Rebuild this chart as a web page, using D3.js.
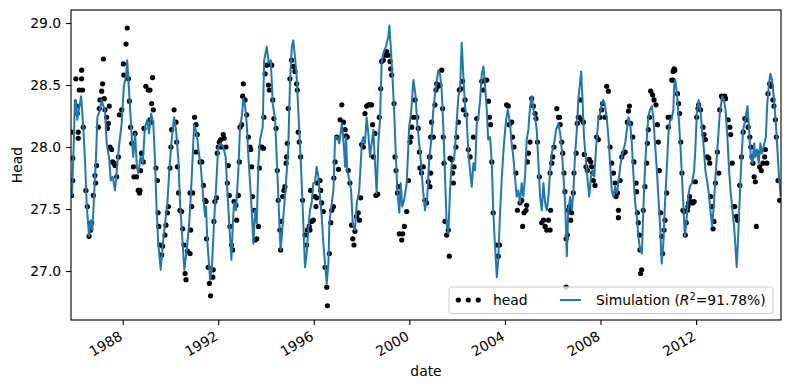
<!DOCTYPE html>
<html>
<head>
<meta charset="utf-8">
<script src="https://cdn.jsdelivr.net/npm/d3@7"></script>
<style>
    body { margin: 0; background: #fff; }
    text { font-family: "DejaVu Sans", sans-serif; }
</style>
</head>
<body>
<div id="chart"></div>
<script>
// observed head [decimal year, head]
var observed = [
    [1985.86, 28.12], [1985.91, 27.91], [1985.91, 27.73], [1985.86, 27.61],
    [1986.04, 28.55], [1986.07, 28.33], [1986.10, 28.27], [1986.14, 28.12], [1986.14, 28.07], [1986.18, 28.46],
    [1986.28, 28.62], [1986.28, 28.55], [1986.32, 28.46], [1986.35, 28.16], [1986.46, 27.65], [1986.52, 27.52],
    [1986.59, 27.28], [1986.66, 27.33], [1986.70, 27.39], [1986.77, 27.61], [1986.84, 27.77], [1986.87, 27.71],
    [1986.91, 27.85], [1986.98, 28.16], [1987.02, 28.31], [1987.05, 28.38], [1987.12, 28.45], [1987.16, 28.51],
    [1987.19, 28.71], [1987.23, 28.39], [1987.26, 28.30], [1987.33, 28.24], [1987.36, 28.15], [1987.44, 28.33],
    [1987.40, 28.19], [1987.47, 28.00], [1987.54, 27.98], [1987.58, 27.88], [1987.64, 27.87], [1987.68, 27.85],
    [1987.75, 27.76], [1987.82, 27.92], [1987.86, 28.26], [1987.96, 28.30], [1988.03, 28.67], [1988.05, 28.58],
    [1988.14, 28.83], [1988.19, 28.96], [1988.24, 28.55], [1988.28, 28.37], [1988.33, 28.16], [1988.38, 28.03],
    [1988.45, 27.84], [1988.47, 27.76], [1988.52, 28.11], [1988.58, 27.76], [1988.65, 27.65], [1988.70, 27.63],
    [1988.72, 27.65], [1988.75, 27.81], [1988.79, 27.95], [1988.86, 27.88], [1988.89, 28.15], [1988.97, 28.49],
    [1989.07, 28.46], [1989.14, 28.46], [1989.21, 28.35], [1989.25, 28.56], [1989.28, 28.30], [1989.14, 28.22],
    [1989.21, 28.20], [1989.39, 27.83], [1989.45, 27.73], [1989.48, 27.47], [1989.51, 27.36], [1989.56, 27.21],
    [1989.63, 27.13], [1989.67, 27.20], [1989.77, 27.29], [1989.81, 27.37], [1989.87, 27.47], [1989.91, 27.52],
    [1989.98, 27.83], [1990.02, 28.00], [1990.05, 28.14], [1990.15, 28.30], [1990.23, 28.20], [1990.26, 28.04],
    [1990.29, 27.84], [1990.34, 27.63], [1990.40, 27.49], [1990.47, 27.48], [1990.51, 27.34], [1990.57, 27.21],
    [1990.61, 26.98], [1990.65, 26.93], [1990.71, 27.16], [1990.82, 27.63], [1990.85, 27.33],
    [1990.89, 27.52], [1990.82, 27.14], [1990.93, 27.63], [1991.01, 28.24], [1991.07, 28.18], [1991.12, 28.10],
    [1991.07, 27.96], [1991.24, 27.88], [1991.31, 27.88], [1991.38, 27.69], [1991.45, 27.57], [1991.49, 27.56],
    [1991.51, 27.26], [1991.58, 27.03], [1991.63, 26.90], [1991.68, 26.80], [1991.77, 26.95], [1991.79, 27.01],
    [1991.82, 27.40], [1991.86, 27.56], [1991.93, 27.59], [1991.96, 27.95], [1992.00, 28.00], [1992.04, 28.04],
    [1992.10, 28.06], [1992.14, 28.00], [1992.21, 28.10], [1992.25, 28.07], [1992.32, 28.00], [1992.38, 27.71],
    [1992.42, 27.85], [1992.46, 27.61], [1992.49, 27.36], [1992.56, 27.21], [1992.60, 27.17], [1992.66, 27.56],
    [1992.74, 27.53], [1992.77, 27.41], [1992.84, 27.61], [1992.88, 27.88], [1992.91, 28.16], [1992.98, 28.18],
    [1993.05, 28.51], [1993.02, 28.41], [1993.12, 28.38], [1993.19, 28.26], [1993.26, 28.08], [1993.33, 28.00],
    [1993.36, 27.98], [1993.40, 27.84], [1993.43, 27.60], [1993.50, 27.49], [1993.54, 27.25], [1993.61, 27.26],
    [1993.68, 27.36], [1993.72, 27.83], [1993.77, 28.00], [1993.82, 28.00], [1993.89, 27.99], [1993.91, 28.24],
    [1993.96, 28.59], [1994.03, 28.66], [1994.10, 28.50], [1994.14, 28.46], [1994.17, 28.67], [1994.24, 28.66],
    [1994.28, 28.38], [1994.33, 28.23], [1994.42, 28.15], [1994.47, 27.81], [1994.51, 27.57], [1994.58, 27.33],
    [1994.61, 27.17], [1994.65, 27.40], [1994.70, 27.60], [1994.75, 27.65], [1994.79, 27.68], [1994.84, 27.87],
    [1994.86, 27.92], [1994.89, 28.03], [1994.93, 28.31], [1995.00, 28.55], [1995.07, 28.70], [1995.14, 28.65],
    [1995.21, 28.61], [1995.28, 28.51], [1995.31, 28.46], [1995.35, 28.12], [1995.39, 28.04], [1995.45, 27.92],
    [1995.53, 27.57], [1995.63, 27.29], [1995.70, 27.21], [1995.73, 27.33], [1995.81, 27.36], [1995.87, 27.65],
    [1995.84, 27.33], [1995.91, 27.40], [1995.98, 27.41], [1996.05, 27.60], [1996.09, 27.52], [1996.12, 27.59],
    [1996.15, 27.71], [1996.26, 27.73], [1996.29, 27.65], [1996.33, 27.55], [1996.40, 27.48], [1996.47, 27.03],
    [1996.54, 26.87], [1996.57, 26.72], [1996.65, 27.14], [1996.71, 27.39], [1996.75, 27.49], [1996.82, 27.52],
    [1996.84, 27.75], [1996.89, 27.88], [1996.96, 28.08], [1997.03, 27.82], [1997.10, 28.22], [1997.17, 28.34],
    [1997.24, 28.20], [1997.31, 28.14], [1997.35, 28.09], [1997.40, 28.08], [1997.44, 27.81], [1997.51, 27.71],
    [1997.58, 27.37], [1997.63, 27.26], [1997.68, 27.21], [1997.72, 27.32], [1997.79, 27.44], [1997.86, 27.47],
    [1997.91, 27.41], [1997.96, 27.59], [1998.00, 28.02], [1998.07, 28.00], [1998.14, 28.27], [1998.21, 28.33],
    [1998.28, 28.34], [1998.35, 28.34], [1998.42, 28.34], [1998.46, 28.18], [1998.49, 27.92], [1998.56, 28.11],
    [1998.60, 27.61], [1998.67, 27.62], [1998.74, 28.24], [1998.80, 28.47], [1998.84, 28.69], [1998.91, 28.70],
    [1998.98, 28.74], [1999.05, 28.77], [1999.12, 28.74], [1999.19, 28.69], [1999.22, 28.63], [1999.26, 28.58],
    [1999.36, 28.35], [1999.40, 27.92], [1999.44, 27.81], [1999.50, 27.63], [1999.54, 27.68], [1999.58, 27.30],
    [1999.68, 27.25], [1999.72, 27.30], [1999.79, 27.36], [1999.89, 27.48], [1999.96, 27.73], [2000.03, 28.04],
    [2000.07, 28.08], [2000.10, 28.16], [2000.17, 28.24], [2000.24, 28.38], [2000.31, 28.24], [2000.37, 28.15],
    [2000.42, 27.96], [2000.44, 27.83], [2000.51, 27.79], [2000.58, 27.84], [2000.65, 27.57], [2000.72, 27.55],
    [2000.79, 27.72], [2000.84, 27.92], [2000.89, 28.08], [2000.93, 28.20],
    [2000.86, 27.92], [2000.89, 27.79], [2000.86, 27.68], [2001.00, 28.08], [2001.07, 28.34], [2001.11, 28.46],
    [2001.14, 28.51], [2001.21, 28.49], [2001.28, 28.50], [2001.35, 28.62], [2001.39, 28.31], [2001.42, 28.08],
    [2001.45, 27.87], [2001.49, 27.40], [2001.56, 27.29], [2001.63, 27.33], [2001.67, 27.12], [2001.70, 27.91],
    [2001.77, 27.90], [2001.81, 27.79], [2001.84, 27.71], [2001.87, 27.84], [2001.95, 28.00], [2001.98, 28.08],
    [2002.05, 28.20], [2002.09, 28.46], [2002.15, 28.47], [2002.23, 28.53], [2002.26, 28.30], [2002.33, 28.38],
    [2002.37, 28.26], [2002.47, 27.98], [2002.54, 27.92], [2002.68, 28.08], [2002.82, 28.23], [2003.03, 28.53],
    [2003.10, 28.46], [2003.17, 28.54], [2003.24, 28.54], [2003.31, 28.37], [2003.35, 28.24], [2003.40, 28.18],
    [2003.45, 27.88], [2003.51, 27.47], [2003.65, 27.21], [2003.72, 27.12], [2003.77, 27.21], [2004.07, 28.34],
    [2004.14, 28.33], [2004.18, 28.18], [2004.28, 28.20], [2004.32, 28.08], [2004.38, 28.00], [2004.46, 27.79],
    [2004.52, 27.49], [2004.63, 27.55], [2004.70, 27.57], [2004.74, 27.36], [2004.80, 27.47], [2004.88, 27.49],
    [2004.91, 27.53], [2004.94, 27.88], [2004.98, 27.95], [2005.05, 28.04], [2005.12, 28.39], [2005.19, 28.33],
    [2005.26, 28.27], [2005.30, 28.23], [2005.36, 28.04], [2005.44, 27.76], [2005.54, 27.39], [2005.61, 27.41],
    [2005.68, 27.36], [2005.75, 27.33], [2005.82, 27.41],
    [2005.89, 27.79], [2005.91, 27.49], [2005.89, 27.33], [2005.96, 27.87], [2006.00, 27.92], [2006.05, 28.00],
    [2006.17, 28.31], [2006.24, 28.24], [2006.28, 28.24], [2006.31, 28.18], [2006.38, 28.04], [2006.42, 27.95],
    [2006.47, 27.79], [2006.51, 27.64], [2006.56, 27.26], [2006.61, 27.29], [2006.65, 27.49], [2006.70, 27.52],
    [2006.75, 27.41], [2006.79, 27.47], [2006.86, 27.63], [2006.89, 27.79], [2006.98, 27.95], [2007.03, 28.19],
    [2007.07, 28.24], [2007.11, 28.24], [2007.17, 28.38], [2007.21, 28.22], [2007.28, 28.20], [2007.32, 27.94],
    [2007.39, 27.84], [2007.45, 27.81], [2007.53, 27.90], [2007.59, 27.88], [2007.63, 27.84], [2007.67, 27.79],
    [2007.70, 27.73], [2007.77, 27.69], [2007.84, 28.08], [2007.91, 28.06], [2007.98, 28.24], [2008.05, 28.30],
    [2008.09, 28.35], [2008.19, 28.24], [2008.26, 28.49], [2008.33, 28.45], [2008.40, 28.00], [2008.47, 27.87],
    [2008.54, 27.79], [2008.61, 27.71], [2008.65, 27.60], [2008.71, 27.63], [2008.75, 27.49], [2008.75, 27.43],
    [2008.82, 27.73], [2008.89, 27.92], [2008.96, 27.95], [2009.03, 27.96], [2009.12, 28.20], [2009.17, 28.29],
    [2009.21, 28.33], [2009.26, 28.19], [2009.35, 28.08], [2009.40, 27.88], [2009.49, 27.71], [2009.51, 27.64],
    [2009.54, 27.47], [2009.58, 27.39], [2009.63, 27.29], [2009.65, 27.17], [2009.68, 26.98], [2009.72, 27.01],
    [2009.79, 27.49], [2009.86, 27.68], [2009.93, 27.87], [2009.96, 28.03], [2010.00, 28.14], [2010.05, 28.24],
    [2010.10, 28.45], [2010.18, 28.42], [2010.24, 28.38], [2010.32, 28.34], [2010.38, 28.18], [2010.42, 28.04],
    [2010.46, 27.81], [2010.52, 27.47], [2010.56, 27.28], [2010.60, 27.14], [2010.66, 27.33], [2010.70, 27.41],
    [2010.77, 27.63], [2010.84, 28.16], [2010.91, 28.24], [2010.98, 28.54], [2006.56, 26.87],
    [2010.83, 28.24], [2011.04, 28.61], [2011.08, 28.63], [2011.11, 28.62], [2011.04, 28.54], [2011.22, 28.43],
    [2011.27, 28.35], [2011.31, 28.27], [2011.36, 28.04], [2011.41, 27.79], [2011.45, 27.49], [2011.50, 27.48],
    [2011.55, 27.29], [2011.59, 27.39], [2011.64, 27.49], [2011.66, 27.52], [2011.69, 27.55], [2011.73, 27.60],
    [2011.78, 27.56], [2011.83, 27.55], [2011.87, 27.55], [2011.92, 27.56], [2011.97, 27.72], [2012.03, 28.24],
    [2012.08, 28.31], [2012.11, 28.34], [2012.19, 28.30], [2012.29, 28.16], [2012.33, 28.10], [2012.39, 28.06],
    [2012.47, 27.92], [2012.53, 27.91], [2012.57, 27.87], [2012.61, 27.60], [2012.67, 27.52], [2012.71, 27.34],
    [2012.75, 27.40], [2012.81, 27.71], [2012.89, 27.96], [2012.95, 27.79], [2012.99, 28.30], [2013.06, 28.41],
    [2013.13, 28.39], [2013.20, 28.41], [2013.23, 28.39], [2013.34, 28.22], [2013.41, 28.16], [2013.45, 28.10],
    [2013.51, 27.87], [2013.56, 27.52], [2013.62, 27.52], [2013.69, 27.44], [2013.73, 27.41], [2013.83, 27.69],
    [2013.90, 27.92], [2013.97, 28.12], [2014.04, 28.23], [2014.11, 28.22], [2014.18, 28.16], [2014.25, 28.08],
    [2014.29, 28.00], [2014.34, 27.92], [2014.38, 27.87], [2014.43, 27.76], [2014.48, 27.72], [2014.52, 27.36],
    [2014.59, 27.95], [2014.66, 27.84], [2014.73, 27.81], [2014.80, 27.87], [2014.87, 27.92], [2014.90, 27.98],
    [2014.96, 27.87], [2015.01, 28.43], [2015.08, 28.51], [2015.15, 28.49], [2015.22, 28.38], [2015.26, 28.33],
    [2015.32, 28.22], [2015.36, 28.08], [2015.43, 27.73], [2015.50, 27.57]
];

// simulated head [decimal year, head]
var simulated = [
    [1985.87, 27.60], [1985.94, 27.95], [1986.00, 28.38], [1986.04, 28.38], [1986.10, 28.22], [1986.26, 28.41],
    [1986.35, 28.16], [1986.42, 27.90], [1986.49, 27.55], [1986.59, 27.28], [1986.66, 27.41], [1986.73, 27.33],
    [1986.80, 27.60], [1986.88, 27.90], [1986.94, 28.24], [1987.05, 28.30], [1987.12, 28.38], [1987.19, 28.33],
    [1987.26, 28.30], [1987.33, 28.03], [1987.44, 27.90], [1987.50, 27.73], [1987.58, 27.76], [1987.68, 27.65],
    [1987.75, 27.81], [1987.86, 28.03], [1987.96, 28.19], [1988.05, 28.49], [1988.14, 28.57], [1988.19, 28.70],
    [1988.28, 28.41], [1988.38, 28.08], [1988.44, 27.92], [1988.52, 28.11], [1988.59, 27.84], [1988.65, 27.79],
    [1988.75, 27.92], [1988.84, 27.87], [1988.93, 28.16], [1989.03, 28.22], [1989.10, 28.11], [1989.19, 28.27],
    [1989.28, 28.19], [1989.35, 27.90], [1989.42, 27.49], [1989.49, 27.22], [1989.59, 27.01], [1989.68, 27.22],
    [1989.77, 27.38], [1989.87, 27.55], [1989.95, 27.81], [1990.05, 28.06], [1990.15, 28.24], [1990.23, 28.14],
    [1990.33, 27.90], [1990.40, 27.55], [1990.51, 27.22], [1990.58, 27.01], [1990.68, 27.17], [1990.78, 27.38],
    [1990.85, 27.60], [1990.89, 27.76], [1990.99, 28.18], [1991.10, 28.11], [1991.17, 27.98], [1991.27, 27.84],
    [1991.37, 27.60], [1991.45, 27.44], [1991.49, 27.52], [1991.54, 27.25], [1991.66, 26.93], [1991.73, 27.01],
    [1991.82, 27.38], [1991.91, 27.68], [1992.00, 28.00], [1992.10, 28.03], [1992.21, 28.00], [1992.31, 27.92],
    [1992.38, 27.65], [1992.46, 27.38], [1992.55, 27.09], [1992.61, 27.38], [1992.66, 27.55], [1992.74, 27.49],
    [1992.84, 27.81], [1992.91, 28.16], [1992.98, 28.24], [1993.05, 28.39], [1993.12, 28.33], [1993.19, 28.19],
    [1993.26, 27.92], [1993.33, 27.71], [1993.40, 27.49], [1993.47, 27.22], [1993.54, 27.49], [1993.61, 27.38],
    [1993.68, 27.87], [1993.75, 28.06], [1993.86, 28.16], [1993.92, 28.70], [1994.03, 28.81], [1994.11, 28.68],
    [1994.20, 28.70], [1994.28, 28.35], [1994.38, 28.22], [1994.47, 27.81], [1994.56, 27.38], [1994.61, 27.17],
    [1994.70, 27.38], [1994.79, 27.60], [1994.87, 27.81], [1994.93, 27.98], [1995.00, 28.51], [1995.08, 28.81],
    [1995.14, 28.86], [1995.21, 28.73], [1995.28, 28.57], [1995.35, 28.30], [1995.45, 27.90], [1995.54, 27.49],
    [1995.63, 27.03], [1995.70, 27.14], [1995.79, 27.38], [1995.84, 27.49], [1995.91, 27.55], [1995.98, 27.71],
    [1996.05, 27.71], [1996.12, 27.84], [1996.19, 27.76], [1996.26, 27.60], [1996.33, 27.44], [1996.40, 27.22],
    [1996.47, 27.06], [1996.54, 26.90], [1996.61, 27.06], [1996.65, 27.38], [1996.71, 27.49], [1996.82, 27.65],
    [1996.89, 28.08], [1996.98, 28.08], [1997.07, 28.03], [1997.17, 28.19], [1997.23, 28.08], [1997.31, 27.84],
    [1997.35, 28.08], [1997.40, 27.81], [1997.49, 27.73], [1997.56, 27.65], [1997.63, 27.38], [1997.72, 27.33],
    [1997.80, 27.55], [1997.90, 27.65], [1998.01, 28.03], [1998.07, 28.08], [1998.14, 28.03], [1998.21, 28.24],
    [1998.28, 28.11], [1998.35, 27.92], [1998.42, 28.03], [1998.49, 28.14], [1998.56, 27.87], [1998.63, 27.63],
    [1998.70, 28.03], [1998.77, 28.22], [1998.84, 28.68], [1998.91, 28.76], [1999.02, 28.81], [1999.12, 28.89],
    [1999.16, 28.98], [1999.22, 28.81], [1999.29, 28.57], [1999.36, 28.30], [1999.44, 27.90], [1999.50, 27.63],
    [1999.58, 27.47], [1999.64, 27.71], [1999.70, 27.52], [1999.78, 27.57], [1999.89, 27.71], [1999.99, 28.16],
    [2000.07, 28.27], [2000.17, 28.54], [2000.25, 28.43], [2000.33, 28.19], [2000.45, 27.95], [2000.56, 27.68],
    [2000.65, 27.49], [2000.75, 27.60], [2000.83, 27.90], [2000.93, 28.08], [2001.00, 28.30], [2001.11, 28.49],
    [2001.21, 28.62], [2001.28, 28.59], [2001.35, 28.46], [2001.42, 28.16], [2001.49, 27.76], [2001.56, 27.38],
    [2001.63, 27.30], [2001.70, 27.65], [2001.77, 27.87], [2001.87, 27.90], [2001.95, 28.11], [2002.05, 28.41],
    [2002.12, 28.46], [2002.19, 28.84], [2002.26, 28.57], [2002.33, 28.33], [2002.40, 28.22], [2002.47, 27.95],
    [2002.54, 27.81], [2002.61, 27.68], [2002.68, 27.87], [2002.75, 27.81], [2002.82, 28.19], [2002.89, 28.24],
    [2002.96, 28.38], [2003.03, 28.59], [2003.10, 28.65], [2003.17, 28.49], [2003.24, 28.30], [2003.30, 28.06],
    [2003.38, 28.08], [2003.45, 27.87], [2003.51, 27.49], [2003.58, 27.22], [2003.66, 26.95], [2003.72, 27.09],
    [2003.79, 27.44], [2003.87, 27.76], [2003.96, 28.03], [2004.05, 28.22], [2004.12, 28.30], [2004.21, 28.19],
    [2004.28, 28.03], [2004.35, 27.92], [2004.42, 27.76], [2004.49, 27.60], [2004.56, 27.65], [2004.63, 27.55],
    [2004.70, 27.71], [2004.77, 27.60], [2004.84, 27.76], [2004.91, 28.06], [2004.98, 28.14], [2005.05, 28.33],
    [2005.12, 28.41], [2005.19, 28.30], [2005.26, 28.24], [2005.33, 28.14], [2005.40, 27.87], [2005.47, 27.60],
    [2005.54, 27.49], [2005.61, 27.71], [2005.68, 27.55], [2005.75, 27.49], [2005.82, 27.60], [2005.89, 27.81],
    [2005.96, 27.95], [2006.06, 28.03], [2006.14, 28.14], [2006.24, 28.19], [2006.31, 28.11], [2006.38, 27.98],
    [2006.44, 27.79], [2006.52, 27.55], [2006.59, 27.12], [2006.65, 27.49], [2006.73, 27.60], [2006.80, 27.49],
    [2006.86, 27.63], [2006.93, 27.92], [2007.01, 28.14], [2007.07, 28.38], [2007.14, 28.51], [2007.19, 28.61],
    [2007.24, 28.41], [2007.31, 28.08], [2007.40, 27.87], [2007.47, 27.71], [2007.53, 27.60], [2007.60, 27.76],
    [2007.68, 27.81], [2007.74, 27.76], [2007.81, 27.98], [2007.91, 28.22], [2007.98, 28.27], [2008.05, 28.35],
    [2008.12, 28.38], [2008.19, 28.33], [2008.26, 28.24], [2008.33, 28.08], [2008.40, 27.87], [2008.47, 27.65],
    [2008.54, 27.60], [2008.61, 27.68], [2008.68, 27.63], [2008.75, 27.71], [2008.82, 27.84], [2008.89, 27.92],
    [2008.96, 27.98], [2009.03, 28.03], [2009.10, 28.14], [2009.17, 28.24], [2009.24, 28.19], [2009.31, 28.03],
    [2009.38, 27.76], [2009.45, 27.55], [2009.52, 27.44], [2009.58, 27.28], [2009.66, 27.17], [2009.73, 27.14],
    [2009.79, 27.49], [2009.87, 27.87], [2009.94, 28.08], [2010.00, 28.24], [2010.07, 28.30], [2010.15, 28.33],
    [2010.21, 28.24], [2010.28, 28.03], [2010.36, 27.81], [2010.42, 27.60], [2010.49, 27.38], [2010.56, 27.06],
    [2010.63, 27.22], [2010.70, 27.55], [2010.77, 27.81], [2010.84, 28.10], [2010.91, 28.22], [2010.97, 28.22],
    [2011.05, 28.30], [2011.08, 28.49], [2011.13, 28.54], [2011.20, 28.43], [2011.28, 28.22], [2011.34, 28.03],
    [2011.41, 27.76], [2011.49, 27.44], [2011.53, 27.28], [2011.59, 27.38], [2011.67, 27.60], [2011.74, 27.68],
    [2011.83, 27.71], [2011.92, 27.81], [2011.97, 27.98], [2012.03, 28.27], [2012.11, 28.38], [2012.20, 28.27],
    [2012.25, 28.14], [2012.33, 27.98], [2012.39, 27.81], [2012.46, 27.73], [2012.53, 27.63], [2012.60, 27.49],
    [2012.67, 27.36], [2012.74, 27.52], [2012.81, 27.76], [2012.89, 27.98], [2012.99, 28.27], [2013.09, 28.41],
    [2013.17, 28.38], [2013.23, 28.30], [2013.31, 28.08], [2013.38, 27.81], [2013.45, 27.63], [2013.52, 27.49],
    [2013.59, 27.36], [2013.64, 27.22], [2013.70, 27.03], [2013.76, 27.28], [2013.83, 27.60], [2013.90, 27.92],
    [2013.97, 28.14], [2014.06, 28.22], [2014.15, 28.33], [2014.22, 28.14], [2014.29, 27.92], [2014.36, 27.87],
    [2014.43, 28.03], [2014.48, 27.92], [2014.55, 27.98], [2014.62, 27.87], [2014.69, 28.03], [2014.76, 27.95],
    [2014.86, 28.03], [2014.92, 28.08], [2014.98, 28.35], [2015.05, 28.51], [2015.11, 28.59], [2015.18, 28.54],
    [2015.25, 28.41], [2015.32, 28.24], [2015.39, 28.03], [2015.47, 27.76], [2015.54, 27.60]
];

var yTicks = [27.0, 27.5, 28.0, 28.5, 29.0];
var xDomain = [1985.836, 2015.555];
var yDomain = [26.605, 29.105];
var simLabel = {pre: 'Simulation (', sup: '2', post: '=91.78%)'};

function toDate(y) {
    var yr = Math.floor(y);
    var start = new Date(yr, 0, 1), end = new Date(yr + 1, 0, 1);
    return new Date(start.getTime() + (y - yr) * (end - start));
}

var width = 790, height = 390;
var margin = {top: 10, right: 9, bottom: 70, left: 71};
var fs = 13.9;
var dotR = 2.6;

var svg = d3.select('#chart').append('svg')
    .attr('width', width)
    .attr('height', height);

var x = d3.scaleTime()
    .domain(xDomain.map(toDate))
    .range([margin.left, width - margin.right]);
var y = d3.scaleLinear()
    .domain(yDomain)
    .range([height - margin.bottom, margin.top]);

svg.append('clipPath').attr('id', 'clip')
    .append('rect')
    .attr('x', margin.left).attr('y', margin.top)
    .attr('width', width - margin.left - margin.right)
    .attr('height', height - margin.top - margin.bottom);

var plot = svg.append('g').attr('clip-path', 'url(#clip)');

plot.selectAll('circle.obs')
    .data(observed)
    .enter().append('circle')
    .attr('class', 'obs')
    .attr('cx', function (d) { return x(toDate(d[0])); })
    .attr('cy', function (d) { return y(d[1]); })
    .attr('r', dotR)
    .attr('fill', '#000');

var line = d3.line()
    .x(function (d) { return x(toDate(d[0])); })
    .y(function (d) { return y(d[1]); });

plot.append('path')
    .datum(simulated)
    .attr('fill', 'none')
    .attr('stroke', '#1f77b4')
    .attr('stroke-width', 2)
    .attr('stroke-linejoin', 'round')
    .attr('d', line);

// axes
var xAxis = svg.append('g')
    .attr('transform', 'translate(0,' + (height - margin.bottom) + ')')
    .call(d3.axisBottom(x).ticks(d3.timeYear.every(4)).tickSize(4.9).tickFormat(''));
var yAxis = svg.append('g')
    .attr('transform', 'translate(' + margin.left + ',0)')
    .call(d3.axisLeft(y).tickValues(yTicks).tickSize(4.9).tickFormat(d3.format('.1f')).tickPadding(4.9));

[xAxis, yAxis].forEach(function (a) {
    a.select('.domain').remove();
    a.selectAll('.tick line').attr('stroke', '#000').attr('stroke-width', 1.1);
});
yAxis.selectAll('.tick text')
    .attr('font-size', fs)
    .attr('fill', '#000')
    .attr('font-family', '"DejaVu Sans", sans-serif');

x.ticks(d3.timeYear.every(4)).forEach(function (t) {
    svg.append('text')
        .attr('transform', 'translate(' + (x(t) - 4.5) + ',' + (height - margin.bottom + 10) + ') rotate(-30)')
        .attr('text-anchor', 'end')
        .attr('dy', '0.76em')
        .attr('font-size', fs)
        .text(d3.timeFormat('%Y')(t));
});

// frame
svg.append('rect')
    .attr('x', margin.left).attr('y', margin.top)
    .attr('width', width - margin.left - margin.right)
    .attr('height', height - margin.top - margin.bottom)
    .attr('fill', 'none')
    .attr('stroke', '#000')
    .attr('stroke-width', 1.1);

svg.append('text')
    .attr('x', (margin.left + width - margin.right) / 2)
    .attr('y', 376)
    .attr('text-anchor', 'middle')
    .attr('font-size', fs)
    .text('date');

svg.append('text')
    .attr('transform', 'translate(21.5,' + ((margin.top + height - margin.bottom) / 2) + ') rotate(-90)')
    .attr('text-anchor', 'middle')
    .attr('font-size', fs)
    .text('Head');

// legend
var lg = svg.append('g');
lg.append('rect')
    .attr('x', 449).attr('y', 287)
    .attr('width', 324).attr('height', 26.5)
    .attr('rx', 2.5)
    .attr('fill', '#fff').attr('fill-opacity', 0.8)
    .attr('stroke', '#cccccc').attr('stroke-width', 1);
[458.3, 468.3, 478.3].forEach(function (cx) {
    lg.append('circle').attr('cx', cx).attr('cy', 300).attr('r', dotR).attr('fill', '#000');
});
lg.append('text').attr('x', 493).attr('y', 305).attr('font-size', fs).text('head');
lg.append('line')
    .attr('x1', 560).attr('x2', 581).attr('y1', 300).attr('y2', 300)
    .attr('stroke', '#1f77b4').attr('stroke-width', 2);
var st = lg.append('text').attr('x', 596).attr('y', 305).attr('font-size', fs);
st.append('tspan').text(simLabel.pre);
st.append('tspan').attr('font-style', 'italic').text('R');
st.append('tspan').attr('font-size', fs * 0.7).attr('dy', -5).text(simLabel.sup);
st.append('tspan').attr('dy', 5).text(simLabel.post);
</script>
</body>
</html>
